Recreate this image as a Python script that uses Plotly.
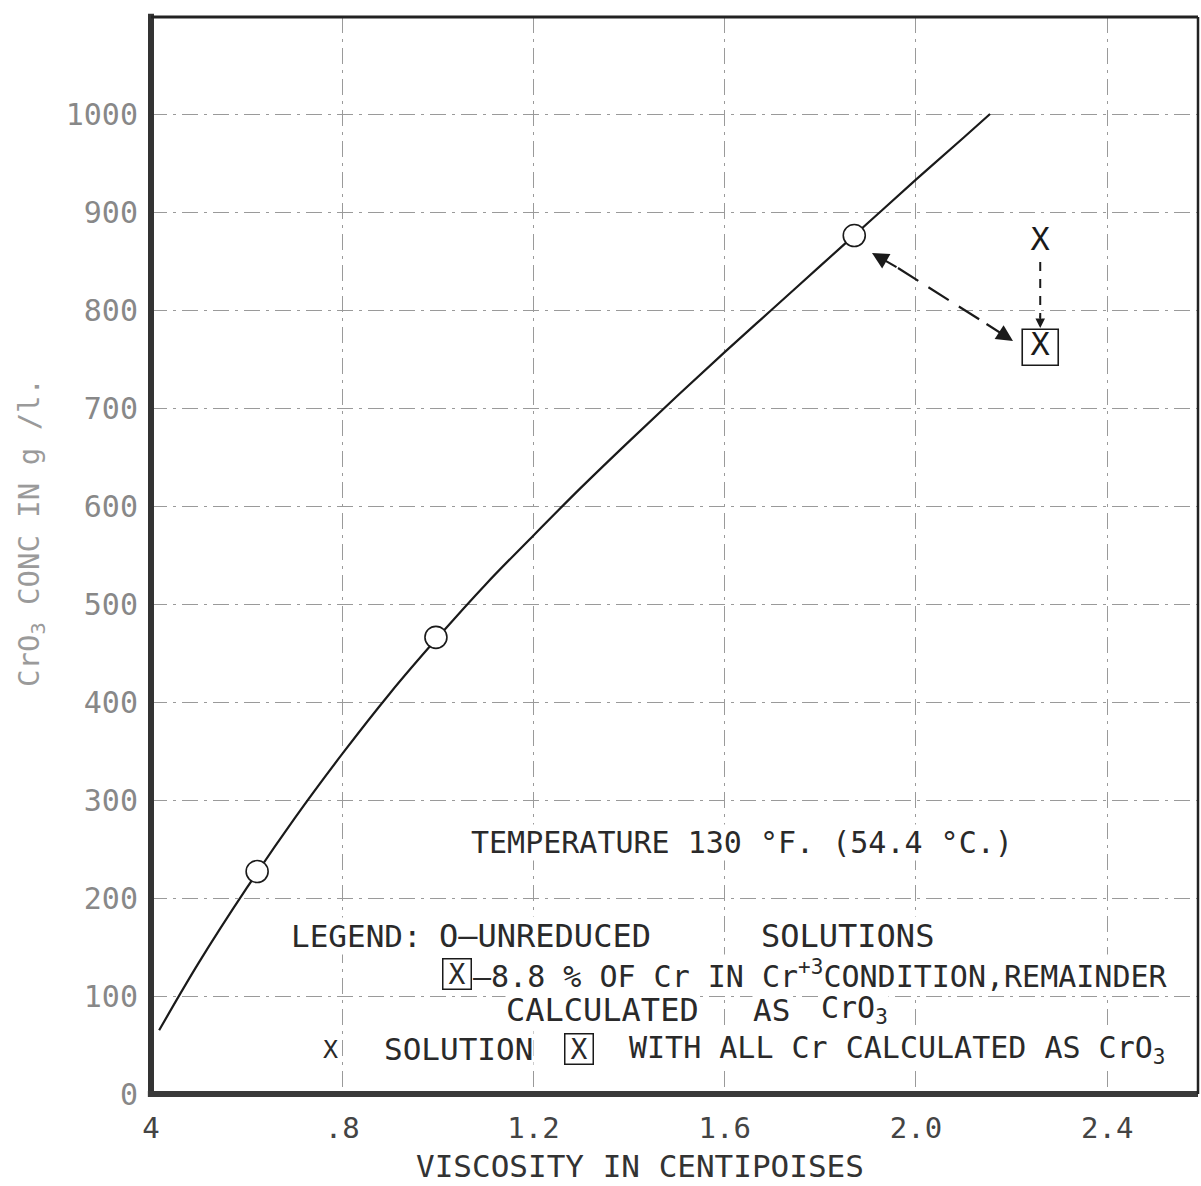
import plotly.graph_objects as go

# ---- data ----
visc_curve = [0.417, 0.5, 0.6, 0.7, 0.8, 0.9, 1.0, 1.1, 1.2, 1.3, 1.4, 1.5, 1.6, 1.7, 1.8, 1.9, 2.0, 2.1, 2.155]
conc_curve = [65, 134, 210, 281, 347, 409, 466, 520, 570, 619, 666, 712, 757, 801, 845, 889, 933, 976, 1000]

visc_unreduced = [0.622, 0.996, 1.871]
conc_unreduced = [227, 466, 876]

visc_cr3 = [2.26]          # boxed X: 8.8 % of Cr as Cr+3
conc_cr3 = [762]

visc_all_cr = [2.26]       # X: all Cr calculated as CrO3
conc_all_cr = [869]

x_tickvals = [0.4, 0.8, 1.2, 1.6, 2.0, 2.4]
x_ticktext = ["4", ".8", "1.2", "1.6", "2.0", "2.4"]
y_tickvals = [0, 100, 200, 300, 400, 500, 600, 700, 800, 900, 1000]
y_ticktext = ["0", "100", "200", "300", "400", "500", "600", "700", "800", "900", "1000"]

FONT = "DejaVu Sans Mono"
INK = "#1a1a1a"
TXT = "#2a2a2a"

# pixel helpers for the fixed plot geometry (plot area 151..1198 x 17..1094)
X0, X1, Y0, Y1 = 0.4, 2.59, 0.0, 1099.0
def px_x(p):
    return X0 + (p - 151) * (X1 - X0) / 1047.0
def px_y(p):
    return Y0 + (1094 - p) * (Y1 - Y0) / 1077.0

fig = go.Figure()

fig.add_trace(go.Scatter(
    x=visc_curve, y=conc_curve, mode="lines",
    line=dict(color=INK, width=2.2, shape="spline", smoothing=1.0),
    hoverinfo="skip", showlegend=False))

fig.add_trace(go.Scatter(
    x=visc_unreduced, y=conc_unreduced, mode="markers",
    marker=dict(symbol="circle", size=22, color="white", line=dict(color=INK, width=1.6)),
    showlegend=False))

fig.add_trace(go.Scatter(
    x=visc_cr3, y=conc_cr3, mode="markers+text",
    marker=dict(symbol="square", size=36, color="white", line=dict(color=INK, width=1.6)),
    text=["X"], textposition="middle center",
    textfont=dict(family=FONT, size=32, color=INK),
    showlegend=False))

fig.add_trace(go.Scatter(
    x=visc_all_cr, y=conc_all_cr, mode="text",
    text=["X"], textposition="middle center",
    textfont=dict(family=FONT, size=32, color=INK),
    showlegend=False))

shapes = [
    # dashed connectors
    dict(type="line", xref="x", yref="y", x0=px_x(898), y0=px_y(268), x1=px_x(985), y1=px_y(323),
         line=dict(color=INK, width=2.2, dash="24px,12px")),
    dict(type="line", xref="x", yref="y", x0=2.26, y0=px_y(262), x1=2.26, y1=px_y(318),
         line=dict(color=INK, width=2, dash="9px,8px")),
    # frame: thick left & bottom, thin top & right
    dict(type="line", xref="paper", yref="paper", x0=0, y0=-0.002, x1=0, y1=1.003,
         line=dict(color="#333333", width=6)),
    dict(type="line", xref="paper", yref="paper", x0=-0.003, y0=0, x1=1, y1=0,
         line=dict(color="#3a3a3a", width=6)),
    dict(type="line", xref="paper", yref="paper", x0=0, y0=1, x1=1, y1=1,
         line=dict(color="#222222", width=3)),
    dict(type="line", xref="paper", yref="paper", x0=1, y0=0, x1=1, y1=1,
         line=dict(color="#222222", width=2.5)),
]

ann = []
# arrowheads
ann.append(dict(x=px_x(872), y=px_y(253), ax=px_x(898), ay=px_y(268), xref="x", yref="y", axref="x", ayref="y",
                showarrow=True, arrowhead=2, arrowsize=1.5, arrowwidth=2.2, arrowcolor=INK, text=""))
ann.append(dict(x=px_x(1013), y=px_y(341), ax=px_x(985), ay=px_y(323), xref="x", yref="y", axref="x", ayref="y",
                showarrow=True, arrowhead=2, arrowsize=1.5, arrowwidth=2.2, arrowcolor=INK, text=""))
ann.append(dict(x=2.26, y=px_y(328), ax=2.26, ay=px_y(314), xref="x", yref="y", axref="x", ayref="y",
                showarrow=True, arrowhead=2, arrowsize=1.2, arrowwidth=1.6, arrowcolor=INK, text=""))

def txt(xp, yp, s, size=30, anchor="left", **kw):
    d = dict(x=px_x(xp), y=px_y(yp), xref="x", yref="y", text=s, showarrow=False,
             xanchor=anchor, yanchor="middle",
             font=dict(family=FONT, size=size, color=TXT), bgcolor="white", borderpad=0)
    d.update(kw)
    ann.append(d)

def boxed(xp, yp):
    txt(xp, yp, "X", size=28, anchor="center", bordercolor=INK, borderwidth=1.5,
        borderpad=0, width=27, height=29)

txt(470, 842, "TEMPERATURE 130 °F. (54.4 °C.)", size=30)
txt(290, 936, "LEGEND:", size=31)
txt(438, 936, "O–UNREDUCED", size=32)
txt(760, 936, "SOLUTIONS", size=32)
boxed(457, 974)
txt(472, 974, "–8.8 % OF Cr IN Cr<sup>+3</sup>CONDITION,REMAINDER", size=30)
txt(505, 1010, "CALCULATED", size=32)
txt(752, 1010, "AS", size=31)
txt(820, 1009, "CrO<sub>3</sub>", size=30)
txt(330, 1049, "X", size=25, anchor="center")
txt(383, 1049, "SOLUTION", size=31)
boxed(579, 1049)
txt(628, 1049, "WITH ALL Cr CALCULATED AS CrO<sub>3</sub>", size=30)

# axis titles
ann.append(dict(x=(640 - 151) / 1047.0, y=-(1166 - 1094) / 1077.0, xref="x domain", yref="paper",
                text="VISCOSITY IN CENTIPOISES", showarrow=False, xanchor="center", yanchor="middle",
                font=dict(family=FONT, size=31, color="#333333")))
ann.append(dict(x=(31 - 151) / 1047.0, y=(1094 - 532) / 1077.0, xref="x domain", yref="paper",
                text="CrO<sub>3</sub> CONC IN g /l.", showarrow=False, textangle=-90,
                xanchor="center", yanchor="middle",
                font=dict(family=FONT, size=29, color="#9a9a9a")))

GRID_DASH = "16px,6px,3px,6px"
fig.update_layout(
    width=1201, height=1186,
    margin=dict(l=151, r=3, t=17, b=92),
    paper_bgcolor="white", plot_bgcolor="white",
    shapes=shapes, annotations=ann,
    xaxis=dict(range=[X0, X1], tickvals=x_tickvals, ticktext=x_ticktext,
               showgrid=True, gridcolor="#9a9a9a", gridwidth=1, griddash=GRID_DASH,
               zeroline=False, showline=False, ticks="", ticklabelstandoff=14,
               tickfont=dict(family=FONT, size=29, color="#444444")),
    yaxis=dict(range=[Y0, Y1], tickvals=y_tickvals, ticktext=y_ticktext,
               showgrid=True, gridcolor="#9a9a9a", gridwidth=1, griddash=GRID_DASH,
               zeroline=False, showline=False, ticks="", ticklabelstandoff=12,
               tickfont=dict(family=FONT, size=30, color="#888888")),
)

fig.write_html("out.html")
